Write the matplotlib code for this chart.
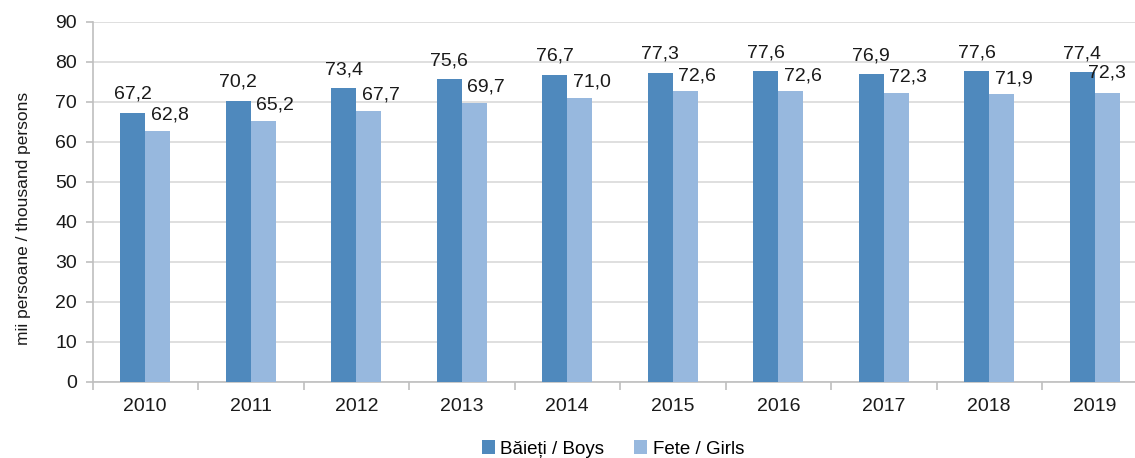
import matplotlib
matplotlib.use("Agg")
import matplotlib.pyplot as plt
import numpy as np

years = ["2010", "2011", "2012", "2013", "2014", "2015", "2016", "2017", "2018", "2019"]
boys = [67.2, 70.2, 73.4, 75.6, 76.7, 77.3, 77.6, 76.9, 77.6, 77.4]
girls = [62.8, 65.2, 67.7, 69.7, 71.0, 72.6, 72.6, 72.3, 71.9, 72.3]
series_names = ["Băieți / Boys", "Fete / Girls"]
ylabel = "mii persoane / thousand persons"

plt.rcParams['font.family'] = ['Liberation Sans', 'DejaVu Sans']

W, H = 1135, 458
fig = plt.figure(figsize=(W / 100, H / 100), dpi=100)
# axes runs a little past the right edge, like the cropped original
ax = fig.add_axes([92.5 / W, (H - 381.7) / H, 1055 / W, 360 / H])

x = np.arange(len(years))
bw = 0.237
c_boys = "#4F89BD"
c_girls = "#97B8DE"
b1 = ax.bar(x - bw / 2, boys, bw, color=c_boys, label=series_names[0], zorder=3)
b2 = ax.bar(x + bw / 2, girls, bw, color=c_girls, label=series_names[1], zorder=3)

def fmt(v):
    return f"{v:.1f}".replace(".", ",")

for xi, v in zip(x, boys):
    ax.annotate(fmt(v), (xi - bw / 2, v), xytext=(0, 14), textcoords="offset pixels",
                ha="center", va="baseline", fontsize=14, color="#1a1a1a", zorder=4)
for i, (xi, v) in enumerate(zip(x, girls)):
    # last label is pushed back inside the plot area
    dx, dy = (12, 11) if i < len(years) - 1 else (0, 15)
    ax.annotate(fmt(v), (xi + bw / 2, v), xytext=(dx, dy), textcoords="offset pixels",
                ha="center", va="baseline", fontsize=14, color="#1a1a1a", zorder=4)

ax.set_xlim(-0.5, len(years) - 0.5)
ax.set_ylim(0, 90)
ax.set_yticks(np.arange(0, 91, 10))
ax.yaxis.grid(True, color="#D9D9D9", linewidth=1.2, zorder=0)
ax.set_xticks(x)
ax.set_xticklabels(years)
ax.set_xticks(np.arange(-0.5, len(years), 1), minor=True)
ax.tick_params(axis="x", which="major", length=0, pad=12, labelsize=14, labelcolor="#1a1a1a")
ax.tick_params(axis="x", which="minor", length=6, color="#BFBFBF", width=1.2)
ax.tick_params(axis="y", length=5, color="#BFBFBF", width=1.2, labelsize=14,
               labelcolor="#1a1a1a", pad=6)

for s in ["top", "right"]:
    ax.spines[s].set_visible(False)
for s in ["left", "bottom"]:
    ax.spines[s].set_color("#BFBFBF")
    ax.spines[s].set_linewidth(1.2)

fig.text(24 / W, 0.5 + (H / 2 - 218) / H, ylabel, rotation=90, ha="center", va="center",
         fontsize=12.5, color="#1a1a1a")

fig.legend(handles=[b1, b2], loc="center", bbox_to_anchor=(613 / W, 9 / H), ncol=2,
           frameon=False, fontsize=13.5, handlelength=0.7, handleheight=0.7,
           handletextpad=0.3, columnspacing=1.6)

fig.savefig("out.png", dpi=100)
